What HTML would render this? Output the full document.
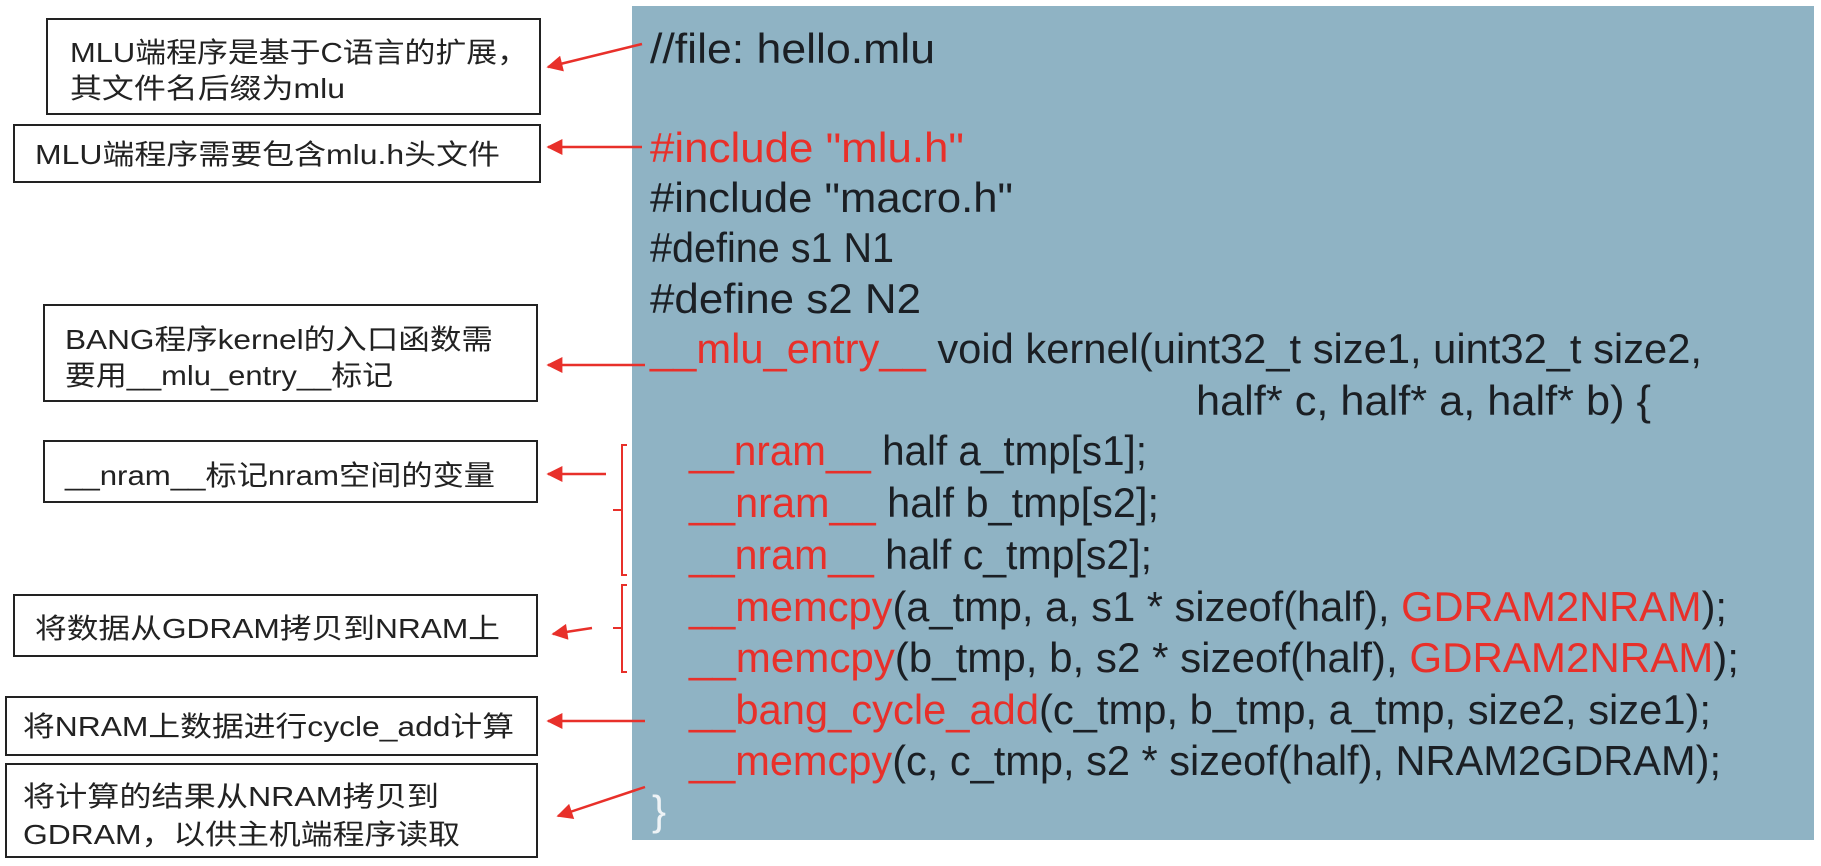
<!DOCTYPE html>
<html><head><meta charset="utf-8"><style>
html,body{margin:0;padding:0;background:#fff;width:1821px;height:866px;overflow:hidden}
svg{display:block}
.c{font-family:"Liberation Sans","Noto Sans CJK SC",sans-serif;font-size:42px;fill:#1b1f24}
.r{fill:#e8302a}
.b{font-family:"Liberation Sans","Noto Sans CJK SC",sans-serif;font-size:28px;fill:#222}
</style></head><body>
<svg width="1821" height="866" viewBox="0 0 1821 866" xmlns="http://www.w3.org/2000/svg">
<defs>
<marker id="a" viewBox="0 0 10 10" markerWidth="18" markerHeight="16" refX="9" refY="5" orient="auto" markerUnits="userSpaceOnUse"><path d="M0,0 L10,5 L0,10 z" fill="#e8302a"/></marker></defs>
<rect x="632" y="6" width="1182" height="834" fill="#8fb3c4"/>
<g class="c">
<text x="650" y="63" textLength="285" lengthAdjust="spacingAndGlyphs">//file: hello.mlu</text>
<text x="650" y="162" textLength="314" lengthAdjust="spacingAndGlyphs" class="c r">#include "mlu.h"</text>
<text x="650" y="212" textLength="363" lengthAdjust="spacingAndGlyphs">#include "macro.h"</text>
<text x="650" y="262" textLength="244" lengthAdjust="spacingAndGlyphs">#define s1 N1</text>
<text x="650" y="313" textLength="271" lengthAdjust="spacingAndGlyphs">#define s2 N2</text>
<text x="650" y="363" textLength="1052" lengthAdjust="spacingAndGlyphs"><tspan class="r">__mlu_entry__</tspan> void kernel(uint32_t size1, uint32_t size2,</text>
<text x="1196" y="415" textLength="455" lengthAdjust="spacingAndGlyphs">half* c, half* a, half* b) {</text>
<text x="689" y="465" textLength="458" lengthAdjust="spacingAndGlyphs"><tspan class="r">__nram__</tspan> half a_tmp[s1];</text>
<text x="689" y="517" textLength="470" lengthAdjust="spacingAndGlyphs"><tspan class="r">__nram__</tspan> half b_tmp[s2];</text>
<text x="689" y="569" textLength="463" lengthAdjust="spacingAndGlyphs"><tspan class="r">__nram__</tspan> half c_tmp[s2];</text>
<text x="689" y="621" textLength="1038" lengthAdjust="spacingAndGlyphs"><tspan class="r">__memcpy</tspan>(a_tmp, a, s1 * sizeof(half), <tspan class="r">GDRAM2NRAM</tspan>);</text>
<text x="689" y="672" textLength="1050" lengthAdjust="spacingAndGlyphs"><tspan class="r">__memcpy</tspan>(b_tmp, b, s2 * sizeof(half), <tspan class="r">GDRAM2NRAM</tspan>);</text>
<text x="689" y="724" textLength="1022" lengthAdjust="spacingAndGlyphs"><tspan class="r">__bang_cycle_add</tspan>(c_tmp, b_tmp, a_tmp, size2, size1);</text>
<text x="689" y="775" textLength="1032" lengthAdjust="spacingAndGlyphs"><tspan class="r">__memcpy</tspan>(c, c_tmp, s2 * sizeof(half), NRAM2GDRAM);</text>
<text x="652" y="825" style="fill:#eef3f6">}</text>
</g>
<g fill="none" stroke="#222" stroke-width="2">
<rect x="47" y="19" width="493" height="95"/>
<rect x="14" y="125" width="526" height="57"/>
<rect x="44" y="305" width="493" height="96"/>
<rect x="44" y="441" width="493" height="61"/>
<rect x="14" y="595" width="523" height="61"/>
<rect x="6" y="697" width="531" height="58"/>
<rect x="6" y="764" width="531" height="93"/>
</g>
<g class="b">
<text x="70" y="62" textLength="458" lengthAdjust="spacingAndGlyphs">MLU端程序是基于C语言的扩展，</text>
<text x="70" y="98" textLength="275" lengthAdjust="spacingAndGlyphs">其文件名后缀为mlu</text>
<text x="35" y="164" textLength="465" lengthAdjust="spacingAndGlyphs">MLU端程序需要包含mlu.h头文件</text>
<text x="65" y="349" textLength="428" lengthAdjust="spacingAndGlyphs">BANG程序kernel的入口函数需</text>
<text x="65" y="385" textLength="328" lengthAdjust="spacingAndGlyphs">要用__mlu_entry__标记</text>
<text x="65" y="485" textLength="430" lengthAdjust="spacingAndGlyphs">__nram__标记nram空间的变量</text>
<text x="35" y="638" textLength="465" lengthAdjust="spacingAndGlyphs">将数据从GDRAM拷贝到NRAM上</text>
<text x="23" y="736" textLength="491" lengthAdjust="spacingAndGlyphs">将NRAM上数据进行cycle_add计算</text>
<text x="23" y="806" textLength="416" lengthAdjust="spacingAndGlyphs">将计算的结果从NRAM拷贝到</text>
<text x="23" y="844" textLength="437" lengthAdjust="spacingAndGlyphs">GDRAM，以供主机端程序读取</text>
</g>
<g stroke="#e8302a" stroke-width="2.5" fill="none">
<line x1="642" y1="44" x2="548" y2="67" marker-end="url(#a)"/>
<line x1="642" y1="147" x2="548" y2="147" marker-end="url(#a)"/>
<line x1="645" y1="365" x2="548" y2="365" marker-end="url(#a)"/>
<line x1="606" y1="474" x2="548" y2="474" marker-end="url(#a)"/>
<line x1="592" y1="628" x2="553" y2="634" marker-end="url(#a)"/>
<line x1="645" y1="721" x2="548" y2="721" marker-end="url(#a)"/>
<line x1="645" y1="787" x2="558" y2="816" marker-end="url(#a)"/>
</g>
<g stroke="#e8302a" stroke-width="2" fill="none">
<path d="M627,445 L622,445 L622,575 L627,575 M622,510 L613,510"/>
<path d="M627,585 L622,585 L622,672 L627,672 M622,628 L613,628"/>
</g>
</svg>
</body></html>
